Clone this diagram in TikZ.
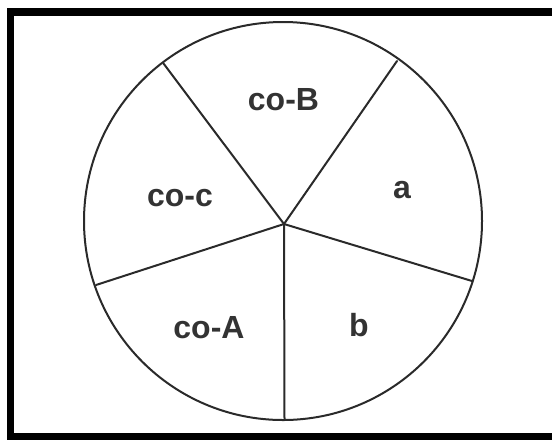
\documentclass[tikz,border=0pt]{standalone}
\usepackage{fontspec}
\setmainfont{Liberation Sans}
\usepackage{xcolor}
\usepackage{tikz}
\usetikzlibrary{calc}
\definecolor{lineGray}{HTML}{2A2A2A}
\definecolor{txtGray}{HTML}{333333}
\tikzset{
  rim/.style={draw=lineGray, line width=1.5pt},
  spoke/.style={draw=lineGray, line width=1.5pt, line cap=round},
  slbl/.style={font=\fontsize{24}{28}\selectfont\bfseries, text=txtGray,
    inner sep=0pt},
  frame/.style={fill=black}
}
\begin{document}
\begin{tikzpicture}[x=0.75pt, y=-0.75pt]
  \useasboundingbox (0,0) rectangle (552,440);

  % frame, open on the right
  \fill[frame] (7,8) rectangle (552,16);
  \fill[frame] (7,8) rectangle (14,440);
  \fill[frame] (7,433) rectangle (552,440);

  % rim and hub
  \coordinate (mid) at (283,221);
  \coordinate (hub) at (284,224);
  \draw[rim] (mid) circle[radius=149.25pt];

  \coordinate (eTL) at (163.5,63.5);
  \coordinate (eTR) at (397,61);
  \coordinate (eR)  at (472,281);
  \coordinate (eB)  at (284.5,420);
  \coordinate (eL)  at (96,285);

  \foreach \e in {eTL,eTR,eR,eB,eL}
    \draw[spoke] (hub) -- (\e);

  % sector labels
  \node[slbl] (lcoB) at (283.5,100) {co-B};
  \node[slbl] (la)   at (402,190)   {a};
  \node[slbl] (lcoc) at (180,198)   {co-c};
  \node[slbl] (lcoA) at (209,328)   {co-A};
  \node[slbl] (lb)   at (359,325)   {b};
\end{tikzpicture}
\end{document}
